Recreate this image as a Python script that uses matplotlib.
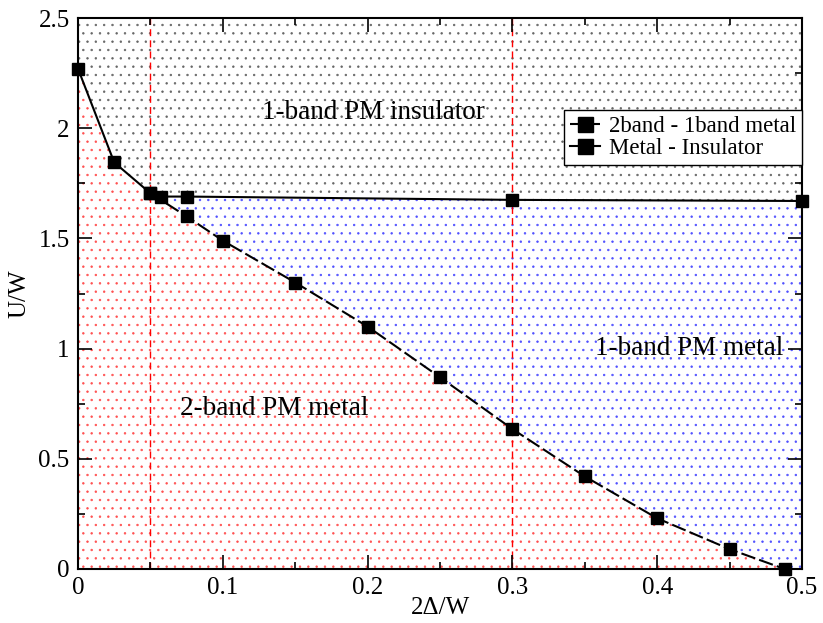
import numpy as np
import matplotlib
matplotlib.use('Agg')
import matplotlib.pyplot as plt
from matplotlib.ticker import MultipleLocator

plt.rcParams['font.family'] = ['Liberation Serif', 'DejaVu Serif']
plt.rcParams['hatch.linewidth'] = 0.5

# ====== Дані ======
# Metal - Insulator boundary
mi_x = [0.0, 0.025, 0.05, 0.057, 0.075, 0.3, 0.5]
mi_y = [2.27, 1.845, 1.705, 1.69, 1.69, 1.675, 1.67]

# 2band - 1band metal boundary
tb_x = [0.05, 0.075, 0.1, 0.15, 0.2, 0.25, 0.3, 0.35, 0.4, 0.45, 0.488]
tb_y = [1.705, 1.60, 1.49, 1.30, 1.10, 0.87, 0.635, 0.42, 0.23, 0.09, 0.0]

vlines_x = [0.05, 0.3]

xlim = (0, 0.5)
ylim = (0, 2.5)

fig = plt.figure(figsize=(8.23, 6.23), dpi=100)
ax = fig.add_axes([0.0948, 0.0867, 0.8797, 0.8843])

# ====== Області ======
mi_x_a = np.array(mi_x)
mi_y_a = np.array(mi_y)
tb_x_a = np.array(tb_x)
tb_y_a = np.array(tb_y)

# insulator (above MI line)
ins_x = np.concatenate([mi_x_a, [xlim[1], xlim[0]]])
ins_y = np.concatenate([mi_y_a, [ylim[1], ylim[1]]])
ax.fill(ins_x, ins_y, facecolor='white', edgecolor='0.4', hatch='..', linewidth=0, zorder=0)

# 2-band metal (below)
left = mi_x_a <= tb_x[0]
red_x = np.concatenate([mi_x_a[left][:-1], tb_x_a, [xlim[0]]])
red_y = np.concatenate([mi_y_a[left][:-1], tb_y_a, [ylim[0]]])
ax.fill(red_x, red_y, facecolor='white', edgecolor='#ff5050', hatch='..', linewidth=0, zorder=0)

# 1-band metal (between)
right = mi_x_a >= tb_x[0]
blue_x = np.concatenate([tb_x_a, [xlim[1]], mi_x_a[right][::-1]])
blue_y = np.concatenate([tb_y_a, [ylim[0]], mi_y_a[right][::-1]])
ax.fill(blue_x, blue_y, facecolor='white', edgecolor='#5050ff', hatch='..', linewidth=0, zorder=0)

for xv in vlines_x:
    ax.axvline(xv, color='red', linestyle=(0, (5, 3)), linewidth=1.0, zorder=1)

# ====== Лінії ======
ax.plot(tb_x, tb_y, color='black', linestyle=(0, (7, 2)), linewidth=1.5,
        marker='s', markersize=9, clip_on=False, zorder=3, label='2band - 1band metal')
ax.plot(mi_x, mi_y, color='black', linestyle='-', linewidth=1.5,
        marker='s', markersize=9, clip_on=False, zorder=3, label='Metal - Insulator')

ax.text(0.204, 2.07, '1-band PM insulator', fontsize=19.5, ha='center', va='center')
ax.text(0.422, 1.0, '1-band PM metal', fontsize=19.5, ha='center', va='center')
ax.text(0.0705, 0.726, '2-band PM metal', fontsize=19.5, ha='left', va='center')

ax.set_xlim(*xlim)
ax.set_ylim(*ylim)
ax.xaxis.set_minor_locator(MultipleLocator(0.05))
ax.yaxis.set_minor_locator(MultipleLocator(0.25))
ax.set_xticks([0, 0.1, 0.2, 0.3, 0.4, 0.5])
ax.set_xticklabels(['0', '0.1', '0.2', '0.3', '0.4', '0.5'])
ax.set_yticks([0, 0.5, 1, 1.5, 2, 2.5])
ax.set_yticklabels(['0', '0.5', '1', '1.5', '2', '2.5'])
ax.tick_params(which='both', direction='in', top=True, right=True, labelsize=18, width=1.2)
ax.tick_params(which='major', length=10, pad=6)
ax.tick_params(which='minor', length=5)
for s in ax.spines.values():
    s.set_linewidth(1.5)

ax.set_xlabel('2Δ/W', fontsize=18, labelpad=-2)
ax.set_ylabel('U/W', fontsize=18, labelpad=6)

leg = ax.legend(loc='upper right', bbox_to_anchor=(1.0, 0.833), fontsize=16.5,
                frameon=True, fancybox=False, handlelength=1.3, handletextpad=0.4,
                borderpad=0.25, labelspacing=0.05, borderaxespad=0, markerscale=1.2)
leg.get_frame().set_edgecolor('black')
leg.get_frame().set_linewidth(1.0)
leg.get_frame().set_alpha(1)

fig.savefig('out.png', dpi=100)
